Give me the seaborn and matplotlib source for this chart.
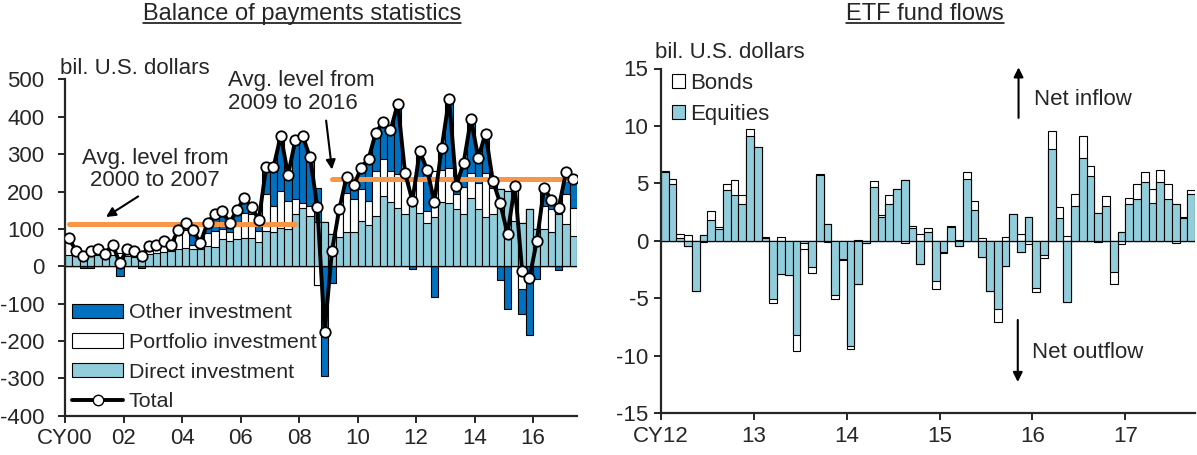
import numpy as np
import matplotlib
matplotlib.use("Agg")
import matplotlib.pyplot as plt
import seaborn as sns
from matplotlib.patches import Patch
from matplotlib.lines import Line2D

# balance of payments, quarterly 2000Q1 - 2017Q2, bil. U.S. dollars
bop_total = [76, 42, 27, 42, 45, 34, 58, 8,
             47, 40, 27, 55, 58, 67, 57, 98,
             117, 97, 62, 117, 140, 147, 116, 150,
             182, 159, 124, 265, 265, 350, 245, 338,
             348, 292, 159, -175, 42, 153, 240, 217,
             264, 288, 358, 386, 364, 435, 249, 175,
             308, 259, 172, 317, 448, 216, 277, 394,
             291, 355, 228, 169, 87, 215, -12, -31,
             67, 210, 177, 157, 252, 234]
bop_direct = [30, 30, 30, 28, 30, 28, 30, 25,
              28, 25, 28, 32, 35, 38, 40, 46,
              48, 45, 45, 55, 51, 73, 67, 73,
              75, 75, 64, 94, 91, 102, 100, 140,
              155, 135, 119, 119, 86, 78, 91, 92,
              122, 110, 135, 188, 171, 157, 140, 183,
              142, 117, 131, 171, 170, 153, 140, 184,
              153, 131, 140, 206, 202, 120, 117, 153,
              100, 100, 92, 140, 113, 80]
bop_portfolio = [40, 10, 2, 18, 12, 6, 20, 10,
                 15, 10, 4, 20, 18, 24, 12, 44,
                 50, 12, 17, 34, 44, 27, 24, 35,
                 67, 65, 31, 99, 71, 100, 75, 40,
                 15, 26, -50, 0, 0, 75, 104, 88,
                 84, 65, 120, 98, 84, 89, 109, 0,
                 90, 31, 124, 88, 93, 40, 71, 66,
                 71, 119, 69, 0, 0, 93, -62, 0,
                 0, 62, 60, 28, 80, 77]
bop_other = [6, 2, -5, -4, 3, 0, 8, -27,
             4, 5, -5, 3, 5, 5, 5, 8,
             19, 40, 0, 28, 45, 47, 25, 42,
             40, 19, 29, 72, 103, 148, 70, 158,
             178, 131, 90, -294, -44, 0, 45, 37,
             58, 113, 103, 100, 109, 189, 0, -8,
             76, 111, -83, 58, 185, 23, 66, 144,
             67, 105, 19, -37, -115, 2, -67, -184,
             -33, 48, 25, -11, 59, 77]
bop_tick_labels = ["CY00", "02", "04", "06", "08", "10", "12", "14", "16"]
avg_2000_2007 = 113
avg_2009_2016 = 234

# ETF fund flows, monthly 2012/1 - 2017/9, bil. U.S. dollars
etf_equities = [6.0, 4.9, 0.2, -0.5, -4.4, 0.5, 1.8, 1.0, 4.4, 4.0, 3.2, 9.1,
                8.2, 0.2, -5.1, -2.9, -3.0, -8.2, -0.2, -2.3, 5.7, 1.5, -4.7, -1.6,
                -9.2, -3.8, -0.2, 4.7, 2.1, 3.2, 4.5, 5.3, 1.1, -2.0, 0.8, -3.5,
                -1.0, 1.2, -0.5, 5.4, 2.7, -1.4, -4.4, -5.9, -2.2, 2.3, -1.0, 2.1,
                -4.1, -1.2, 8.0, 2.0, -5.3, 3.0, 7.2, 5.6, 2.4, 3.0, -2.7, 0.8,
                3.2, 3.6, 5.1, 3.3, 5.1, 3.6, 3.2, 2.0, 4.1]
etf_bonds = [0.1, 0.5, 0.4, 0.5, 0.0, -0.1, 0.8, 0.2, 0.5, 1.3, 0.8, 0.6,
             0.0, 0.1, -0.3, 0.3, 0.0, -1.4, -0.5, -0.5, 0.15, -0.1, -0.4, -0.1,
             -0.2, 0.1, 0.0, 0.5, 0.1, 0.8, 0.0, -0.2, 0.15, 0.6, 0.3, -0.7,
             -0.1, 0.05, 0.1, 0.6, 0.8, 0.2, 0.0, -1.2, 0.3, 0.0, 0.6, -0.3,
             -0.4, -0.3, 1.6, 0.9, 0.4, 1.1, 1.9, 0.9, -0.1, 0.9, -1.1, -0.3,
             0.5, 1.3, 0.9, 1.2, 1.1, 1.3, -0.2, 0.1, 0.3]
etf_tick_labels = ["CY12", "13", "14", "15", "16", "17"]

LIGHT = "#92CDDC"
DARK = "#0070C0"
ORANGE = "#F79646"
W, H = 1197, 455

sns.set_style("ticks")
plt.rcParams["font.family"] = ["Liberation Sans", "DejaVu Sans"]
plt.rcParams["font.size"] = 16
plt.rcParams["axes.unicode_minus"] = False


def px(x, y):
  return x / W, 1 - y / H


def stacked_bars(ax, layers):
  """
  stacked bars with positives going up and negatives going down,
  drawn as overlapping cumulative bars (top layer first)
  """
  n = len(layers[0][0])
  pos = np.zeros(n)
  neg = np.zeros(n)
  cums = []
  for vals, color in layers:
    v = np.asarray(vals, dtype=float)
    pos = pos + np.clip(v, 0, None)
    neg = neg + np.clip(v, None, 0)
    cums.append((pos.copy(), neg.copy(), color))
  x = np.arange(n)
  for p, q, color in reversed(cums):
    for h in (p, q):
      sns.barplot(x=x, y=h, color=color, saturation=1, width=1,
                  edgecolor="black", linewidth=0.8, errorbar=None, ax=ax)
  return x


def style_axes(ax, ypad):
  sns.despine(ax=ax)
  for s in ("left", "bottom"):
    ax.spines[s].set_linewidth(1.6)
  ax.tick_params(width=1.4, length=5, labelsize=16)
  ax.tick_params(axis="y", pad=ypad)
  ax.tick_params(axis="x", pad=4)
  ax.set(xlabel="", ylabel="")


def arrow(ax, head, tail):
  ax.annotate("", xy=head, xytext=tail, annotation_clip=False,
              arrowprops=dict(arrowstyle="-|>", color="black", lw=1.5, mutation_scale=14,
                              shrinkA=0, shrinkB=0))


fig = plt.figure(figsize=(W / 100, H / 100), dpi=100)

# left panel
ax1 = fig.add_axes([65 / W, (H - 415.7) / H, 512 / W, (415.7 - 79.5) / H])
x1 = stacked_bars(ax1, [(bop_direct, LIGHT), (bop_portfolio, "white"), (bop_other, DARK)])
n1 = len(bop_total)
ax1.plot([0, 31], [avg_2000_2007] * 2, color=ORANGE, lw=3.6, solid_capstyle="round", zorder=3)
ax1.plot([36, n1 - 1], [avg_2009_2016] * 2, color=ORANGE, lw=3.6, solid_capstyle="round", zorder=3)
sns.lineplot(x=x1, y=bop_total, ax=ax1, color="black", linewidth=2.8, marker="o",
             markersize=7.5, markerfacecolor="white", markeredgecolor="black",
             markeredgewidth=1.3, zorder=5)
ax1.set_xlim(-0.5, n1 - 0.5)
ax1.set_ylim(-400, 500)
ax1.set_yticks(range(-400, 501, 100))
ax1.set_xticks(np.arange(0, n1, 8) - 0.5)
ax1.set_xticklabels(bop_tick_labels)
style_axes(ax1, 10)

handles1 = [Patch(facecolor=DARK, edgecolor="black", lw=0.8, label="Other investment"),
            Patch(facecolor="white", edgecolor="black", lw=0.8, label="Portfolio investment"),
            Patch(facecolor=LIGHT, edgecolor="black", lw=0.8, label="Direct investment"),
            Line2D([], [], color="black", lw=2.8, marker="o", markersize=7.5,
                   markerfacecolor="white", markeredgecolor="black", label="Total")]
ax1.legend(handles=handles1, loc="lower left", bbox_to_anchor=(0.005, 0.0), frameon=False,
           handlelength=2.4, handleheight=0.65, handletextpad=0.25, labelspacing=0.5,
           borderaxespad=0.0, borderpad=0.2, fontsize=15.4)

ax1.text(11.8, 259, "Avg. level from\n2000 to 2007", ha="center", va="center", fontsize=16,
         linespacing=1.1)
arrow(ax1, (5.1, 132), (9.5, 187))
ax1.text(21.8, 467, "Avg. level from\n2009 to 2016", ha="left", va="center", fontsize=16,
         linespacing=1.1)
arrow(ax1, (36.0, 259), (35.2, 390))

# right panel
ax2 = fig.add_axes([661 / W, (H - 413) / H, 534 / W, (413 - 68.5) / H])
x2 = stacked_bars(ax2, [(etf_equities, LIGHT), (etf_bonds, "white")])
n2 = len(etf_equities)
ax2.set_xlim(-0.5, n2 - 0.5)
ax2.set_ylim(-15, 15)
ax2.set_yticks(range(-15, 16, 5))
ax2.set_xticks(np.arange(0, n2, 12) - 0.5)
ax2.set_xticklabels(etf_tick_labels)
style_axes(ax2, 4)

handles2 = [Patch(facecolor="white", edgecolor="black", lw=0.8, label="Bonds"),
            Patch(facecolor=LIGHT, edgecolor="black", lw=0.8, label="Equities")]
ax2.legend(handles=handles2, loc="upper left", bbox_to_anchor=(0.012, 1.0), frameon=False,
           handlelength=0.6, handleheight=0.6, handletextpad=0.2, labelspacing=0.45,
           borderaxespad=0.0, borderpad=0.2, fontsize=16)

arrow(ax2, (45.7, 15.1), (45.7, 10.7))
ax2.text(47.7, 12.3, "Net inflow", ha="left", va="center", fontsize=16)
arrow(ax2, (45.6, -12.3), (45.6, -6.9))
ax2.text(47.5, -9.7, "Net outflow", ha="left", va="center", fontsize=16)

# unit labels and underlined titles
fig.text(*px(60, 68), "bil. U.S. dollars", ha="left", va="center", fontsize=16)
fig.text(*px(655, 53), "bil. U.S. dollars", ha="left", va="center", fontsize=16)
titles = [fig.text(*px(302, 20), "Balance of payments statistics", ha="center",
                   va="baseline", fontsize=17),
          fig.text(*px(925, 20), "ETF fund flows", ha="center", va="baseline", fontsize=17)]
fig.canvas.draw()
inv = fig.transFigure.inverted()
for t in titles:
  bb = t.get_window_extent()
  (xa, _), (xb, _) = inv.transform([(bb.x0, 0), (bb.x1, 0)])
  yl = 1 - 23 / H
  fig.add_artist(Line2D([xa, xb], [yl, yl], color="black", lw=1.1, transform=fig.transFigure))

fig.savefig("out.png", dpi=100)
